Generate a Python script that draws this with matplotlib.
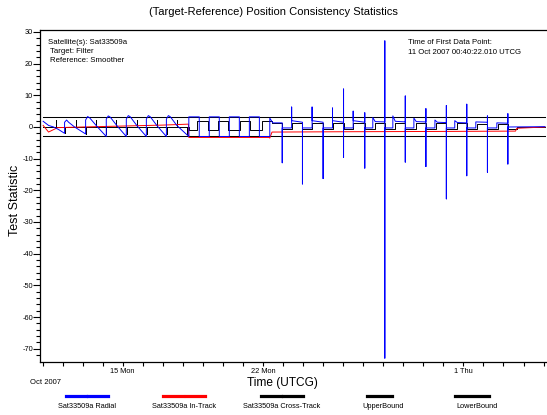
import numpy as np
import pandas as pd
import matplotlib
matplotlib.use('Agg')
import matplotlib.pyplot as plt
import matplotlib.dates as mdates
from matplotlib.lines import Line2D

plt.rcParams['font.family'] = ['Liberation Sans', 'DejaVu Sans']
plt.rcParams['axes.unicode_minus'] = False

# Data (days after 11 Oct 2007 00:00)
start = pd.Timestamp('2007-10-11')

radial_days = [
    0.03, 0.3, 0.55, 0.8, 1.1,
    1.1, 1.2, 1.3, 1.6, 2.15,
    2.15, 2.25, 2.35, 2.7, 3.18,
    3.18, 3.28, 3.38, 3.7, 4.18,
    4.18, 4.28, 4.38, 4.7, 5.18,
    5.18, 5.28, 5.38, 5.7, 6.18,
    6.18, 6.28, 6.38, 6.7, 7.30,
    7.30, 7.82, 7.82, 8.32, 8.32, 8.82, 8.82, 9.32, 9.32, 9.82, 9.82,
    10.32, 10.32, 10.82, 10.82, 11.34,
    11.34, 11.49, 11.96, 11.96, 11.96, 12.43, 12.43, 12.43, 12.97, 12.97, 12.97,
    13.45, 13.45, 13.45, 14.00, 14.00, 14.00, 14.47, 14.47, 14.47,
    15.02, 15.02, 15.02, 15.02, 15.50, 15.50, 15.50,
    16.08, 16.08, 16.08, 16.08, 16.48, 16.48, 16.6,
    17.08, 17.08, 17.08, 17.08, 17.48, 17.48, 17.6,
    18.10, 18.10, 18.10, 18.10, 18.53, 18.53, 18.65,
    19.13, 19.13, 19.13, 19.13, 19.58, 19.58, 19.7,
    20.15, 20.15, 20.15, 20.15, 20.57, 20.57, 20.7,
    21.17, 21.17, 21.17, 21.17, 21.62, 21.62,
    22.20, 22.20, 22.20, 22.20, 22.67, 22.67,
    23.22, 23.22, 23.22, 23.22, 25.07,
]
radial_vals = [
    1.8, 0.5, 0.0, -0.8, -2.0,
    1.5, 2.2, 1.5, 0.0, -2.2,
    2.2, 3.3, 2.9, 0.3, -3.0,
    2.5, 3.5, 3.1, 0.5, -3.0,
    2.5, 3.6, 3.2, 0.5, -3.0,
    2.5, 3.6, 3.2, 0.5, -3.0,
    2.5, 3.6, 3.2, 0.5, -3.0,
    3.2, 3.2, -3.0, -3.0, 3.2, 3.2, -3.0, -3.0, 3.2, 3.2, -3.0,
    -3.0, 3.2, 3.2, -3.0, -3.0,
    2.8, 1.3, 1.3, -11.3, -0.3, -0.3, 6.3, 2.0, 1.5, -18.0, -0.3,
    -0.3, 6.3, 2.0, 1.5, -16.3, -0.3, -0.3, 6.0, 2.0,
    1.5, 12.0, -9.6, -0.3, -0.3, 5.0, 2.0,
    1.5, 4.5, -13.0, -0.3, -0.3, 3.0, 1.7,
    1.6, 27.2, -73.0, -0.3, -0.3, 3.5, 1.8,
    1.6, 9.8, -11.1, -0.3, -0.3, 2.8, 1.7,
    1.6, 5.8, -12.5, -0.3, -0.3, 2.2, 1.5,
    1.4, 6.8, -22.7, -0.3, -0.3, 2.0, 1.4,
    1.3, 7.2, -15.4, -0.3, -0.3, 1.6,
    1.5, 3.5, -14.3, -0.3, -0.3, 1.3,
    1.2, 4.2, -11.7, 0.0, 0.1,
]

intrack_days = [0.03, 0.3, 0.75, 2.0, 4.0, 6.0, 7.28, 7.30, 11.30, 11.34, 11.45,
                15.0, 20.0, 23.6, 23.67, 25.07]
intrack_vals = [0.5, -1.6, -0.2, 0.0, 0.3, 0.6, 0.9, -3.3, -3.3, -3.5, -1.6,
                -1.5, -1.4, -1.3, -0.4, 0.0]

cross_days = [
    0.03, 0.65, 0.65, 0.65, 1.11, 1.11, 1.11, 1.65, 1.65, 1.65, 2.16, 2.16, 2.16,
    2.69, 2.69, 2.69, 3.19, 3.19, 3.19, 3.69, 3.69, 3.69, 4.19, 4.19, 4.19,
    4.69, 4.69, 4.69, 5.19, 5.19, 5.19, 5.69, 5.69, 5.69, 6.19, 6.19, 6.19,
    6.69, 6.69, 6.69, 7.19, 7.19, 7.19, 7.30,
    7.30, 7.70, 7.70, 8.25, 8.25, 8.75, 8.75, 9.25, 9.25, 9.85, 9.85,
    10.35, 10.35, 10.94, 10.94, 11.44,
    11.44, 11.96, 11.96, 12.44, 12.44, 12.97, 12.97, 13.45, 13.45, 14.00, 14.00,
    14.49, 14.49, 15.02, 15.02, 15.50, 15.50, 16.08, 16.08, 16.58, 16.58,
    17.08, 17.08, 17.58, 17.58, 18.10, 18.10, 18.63, 18.63, 19.13, 19.13,
    19.63, 19.63, 20.15, 20.15, 20.67, 20.67, 21.17, 21.17, 21.67, 21.67,
    22.20, 22.20, 22.72, 22.72, 23.22, 23.22, 23.67, 23.67, 25.07,
]
cross_vals = [
    0.0, 0.0, 2.2, 0.0, 0.0, -2.0, 0.0, 0.0, 2.2, 0.0, 0.0, -2.2, 0.0,
    0.0, 2.2, 0.0, 0.0, -2.2, 0.0, 0.0, 2.2, 0.0, 0.0, -2.2, 0.0,
    0.0, 2.2, 0.0, 0.0, -2.2, 0.0, 0.0, 2.2, 0.0, 0.0, -2.2, 0.0,
    0.0, 2.2, 0.0, 0.0, -2.2, 0.0, 0.0,
    -0.8, -0.8, 1.8, 1.8, -0.8, -0.8, 1.8, 1.8, -0.8, -0.8, 1.8,
    1.8, -0.8, -0.8, 1.8, 1.8,
    1.3, 1.3, -0.5, -0.5, 1.3, 1.3, -0.5, -0.5, 1.3, 1.3, -0.5,
    -0.5, 1.3, 1.3, -0.5, -0.5, 1.3, 1.3, -0.5, -0.5, 1.3,
    1.3, -0.5, -0.5, 1.3, 1.3, -0.5, -0.5, 1.2, 1.2, -0.5,
    -0.5, 1.2, 1.2, -0.6, -0.6, 1.2, 1.2, -0.7, -0.7, 1.0,
    1.0, -0.7, -0.7, 0.9, 0.9, -0.6, -0.6, 0.0, 0.0,
]

bound_days = [0.03, 25.07]
upper_vals = [3.0, 3.0]
lower_vals = [-3.0, -3.0]

major_dates = ['2007-10-15', '2007-10-22', '2007-11-01']
major_labels = ['15 Mon', '22 Mon', '1 Thu']


def to_time(days):
    return start + pd.to_timedelta(np.array(days), unit='D')


W, H = 547, 415
fig = plt.figure(figsize=(W / 100, H / 100), dpi=100)
ax = fig.add_axes([40 / W, 1 - 361.5 / H, 509 / W, 331 / H])

ax.plot(to_time(bound_days), upper_vals, color='black', lw=0.75)
ax.plot(to_time(bound_days), lower_vals, color='black', lw=0.75)
ax.plot(to_time(cross_days), cross_vals, color='black', lw=0.7)
ax.plot(to_time(intrack_days), intrack_vals, color='#ff0000', lw=0.7)
ax.plot(to_time(radial_days), radial_vals, color='#0000ff', lw=0.7)

oct15 = pd.Timestamp('2007-10-15')
ax.set_xlim(oct15 - pd.Timedelta(days=82.7 / 20.04),
            oct15 + pd.Timedelta(days=(549 - 122.7) / 20.04))
ax.set_ylim(-74.05, 30.47)

ax.set_xticks(pd.to_datetime(major_dates), major_labels)
ax.xaxis.set_minor_locator(mdates.DayLocator())
ax.set_yticks(np.arange(-70, 31, 10))
ax.set_yticks(np.arange(-72, 31, 2), minor=True)

ax.tick_params(axis='x', which='both', direction='out', length=3, width=0.8,
               labelsize=5.3, pad=1.5)
ax.tick_params(axis='y', which='major', direction='out', length=5, width=0.8,
               labelsize=5.3, pad=0)
ax.tick_params(axis='y', which='minor', direction='out', length=3, width=0.8)
ax.spines['right'].set_visible(False)
for s in ('left', 'bottom', 'top'):
    ax.spines[s].set_linewidth(0.9)

fig.text(15 / W, 1 - 200 / H, 'Test Statistic', rotation=90,
         ha='center', va='center', fontsize=9)
fig.text(0.5, 1 - 12 / H, '(Target-Reference) Position Consistency Statistics',
         ha='center', va='center', fontsize=8)
fig.text(282 / W, 1 - 383 / H, 'Time (UTCG)', ha='center', va='center', fontsize=8.6)
fig.text(30 / W, 1 - 382 / H, 'Oct 2007', ha='left', va='center', fontsize=5.5)

fig.text(48 / W, 1 - 42 / H, 'Satellite(s): Sat33509a', fontsize=5.6, va='center')
fig.text(50 / W, 1 - 51.5 / H, 'Target: Filter', fontsize=5.6, va='center')
fig.text(50 / W, 1 - 61 / H, 'Reference: Smoother', fontsize=5.6, va='center')
fig.text(408 / W, 1 - 42 / H, 'Time of First Data Point:', fontsize=5.6, va='center')
fig.text(408 / W, 1 - 52 / H, '11 Oct 2007 00:40:22.010 UTCG', fontsize=5.6, va='center')

# legend drawn under the axis
leg = [
    ('Sat33509a Radial', '#0000ff', [(66, 86), (88, 108)], 87.5),
    ('Sat33509a In-Track', '#ff0000', [(163, 183), (186, 205)], 184.5),
    ('Sat33509a Cross-Track', 'black', [(261, 281), (283, 303)], 282),
    ('UpperBound', 'black', [(367, 392)], 383),
    ('LowerBound', 'black', [(455, 489)], 477),
]
for label, col, segs, cx in leg:
    for x0, x1 in segs:
        fig.add_artist(Line2D([x0 / W, x1 / W], [1 - 395.7 / H] * 2,
                              color=col, lw=2.3, transform=fig.transFigure))
    fig.text(cx / W, 1 - 406 / H, label, ha='center', va='center', fontsize=5.3)

fig.savefig('out.png', dpi=100)
